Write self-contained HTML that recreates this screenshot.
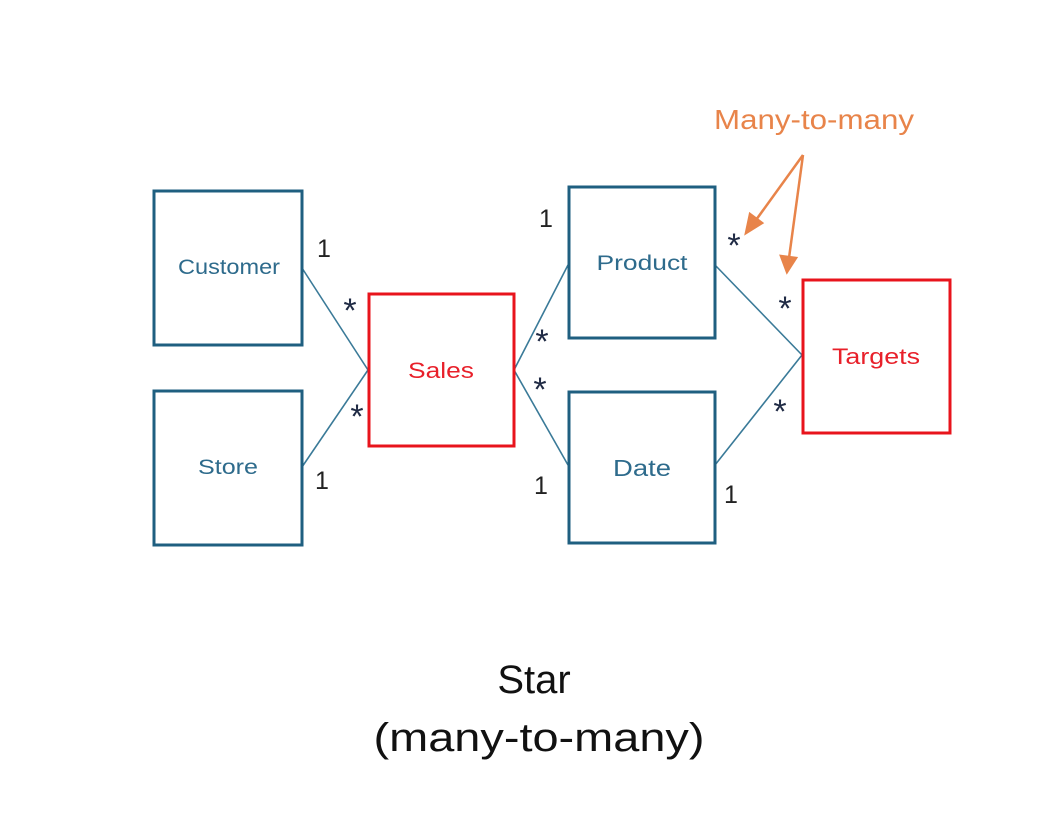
<!DOCTYPE html>
<html><head><meta charset="utf-8"><style>html,body{margin:0;padding:0;background:#fff}svg{display:block}</style></head>
<body>
<svg width="1038" height="838" viewBox="0 0 1038 838" xmlns="http://www.w3.org/2000/svg" font-family="Liberation Sans, sans-serif">
<rect width="1038" height="838" fill="#fff"/>
<g stroke="#3a7a98" stroke-width="1.6" fill="none">
<line x1="302" y1="268" x2="368" y2="370"/>
<line x1="302" y1="467" x2="368" y2="370"/>
<line x1="514" y1="370" x2="568" y2="265"/>
<line x1="514" y1="370" x2="568" y2="465"/>
<line x1="715" y1="265" x2="802" y2="355"/>
<line x1="715" y1="465" x2="802" y2="355"/>
</g>
<g stroke="#1f5f80" stroke-width="3" fill="#fff">
<rect x="154" y="191" width="148" height="154"/>
<rect x="154" y="391" width="148" height="154"/>
<rect x="569" y="187" width="146" height="151"/>
<rect x="569" y="392" width="146" height="151"/>
</g>
<g stroke="#e8141c" stroke-width="3" fill="#fff">
<rect x="369" y="294" width="145" height="152"/>
<rect x="803" y="280" width="147" height="153"/>
</g>
<g font-size="21" fill="#2e6b8c" text-anchor="middle">
<text x="229" y="274" textLength="102" lengthAdjust="spacingAndGlyphs">Customer</text>
<text x="228" y="474" textLength="60" lengthAdjust="spacingAndGlyphs">Store</text>
<text x="642" y="270" textLength="91" lengthAdjust="spacingAndGlyphs">Product</text>
<text x="642" y="476" font-size="23" textLength="58" lengthAdjust="spacingAndGlyphs">Date</text>
</g>
<g font-size="22" fill="#e8202a" text-anchor="middle">
<text x="441" y="378" textLength="66" lengthAdjust="spacingAndGlyphs">Sales</text>
<text x="876" y="364" textLength="88" lengthAdjust="spacingAndGlyphs">Targets</text>
</g>
<g font-size="25" fill="#222" text-anchor="middle">
<text x="324" y="257">1</text>
<text x="322" y="489">1</text>
<text x="546" y="227">1</text>
<text x="541" y="494">1</text>
<text x="731" y="503">1</text>
</g>
<g font-size="34" fill="#1f2a44" text-anchor="middle">
<text x="350" y="322">*</text>
<text x="357" y="428">*</text>
<text x="542" y="353">*</text>
<text x="540" y="401">*</text>
<text x="734" y="257">*</text>
<text x="785" y="320">*</text>
<text x="780" y="423">*</text>
</g>
<text x="814" y="129" font-size="28" fill="#e8844a" text-anchor="middle" textLength="200" lengthAdjust="spacingAndGlyphs">Many-to-many</text>
<g stroke="#e8844a" stroke-width="2.5" fill="#e8844a">
<line x1="803" y1="155" x2="756" y2="220"/>
<polygon points="746,233 750,214 762,223"/>
<line x1="803" y1="155" x2="789" y2="258"/>
<polygon points="787,272 781,256 796,258"/>
</g>
<g font-size="40" fill="#111" text-anchor="middle">
<text x="534" y="693">Star</text>
<text x="539" y="751" textLength="331" lengthAdjust="spacingAndGlyphs">(many-to-many)</text>
</g>
</svg>
</body></html>
